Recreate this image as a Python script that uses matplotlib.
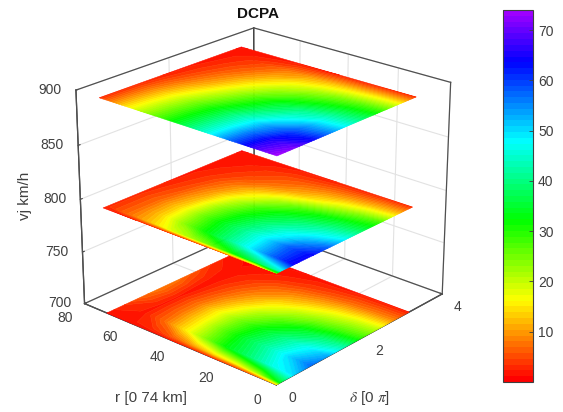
import numpy as np
import matplotlib
matplotlib.use("Agg")
import matplotlib.pyplot as plt
from matplotlib.colors import ListedColormap, Normalize, hsv_to_rgb
from matplotlib.cm import ScalarMappable
from matplotlib.transforms import ScaledTranslation
from mpl_toolkits.mplot3d import Axes3D  # noqa

plt.rcParams['font.family'] = ['Liberation Sans', 'DejaVu Sans']
plt.rcParams['mathtext.fontset'] = 'stix'

W, H = 563, 412
GREY = '#404040'

# fractions of the plate extent along delta
delta_frac = [0, .03, .125, .25, .375, .5, .625, .75, .875, 1]
# fractions of the plate extent along r
r_frac = [0, .125, .25, .375, .5, .625, .75, .875, 1]
delta_max = np.pi
r_max = 70.0
levels_z = [700, 800, 900]

# each row: one delta position; each column: one r position
plate_900 = [
    [74, 67, 57, 46, 37, 28.5, 21, 12, 3],
    [73.5, 67, 57, 46, 37, 28.5, 20.5, 12, 3],
    [71, 65.5, 56, 45.5, 36.5, 28, 20, 11.5, 3],
    [64, 60.5, 53, 44, 35, 26.5, 18.5, 10.5, 3],
    [55, 53, 46.5, 39, 31, 23, 15.5, 8.5, 2.5],
    [46, 44.5, 40.5, 34.5, 27, 19.5, 12, 6.5, 2],
    [37.5, 35.5, 32, 27.5, 22, 15.5, 9.5, 5, 2],
    [28, 26.5, 24, 20.5, 16.5, 11.5, 7, 4, 1.5],
    [16.5, 15.5, 14, 12.5, 10.5, 8, 5, 3, 1.5],
    [3, 3, 2.5, 2.5, 2, 2, 1.5, 1.5, 1],
]
plate_800 = [
    [25, 9, 6, 4.5, 3.5, 3, 2.5, 2, 2],
    [45, 38, 32, 26, 22, 18, 12, 7, 3],
    [65, 57, 48, 39.5, 31.5, 23, 13.5, 7, 3],
    [64, 58, 49, 41, 33.5, 24.5, 14, 7, 3],
    [57, 51, 45, 38.5, 31.5, 23, 12.5, 6, 2.5],
    [47, 43.5, 39, 34, 27.5, 19, 10.5, 5, 2],
    [37, 35, 31.5, 26.5, 20, 13.5, 8, 4, 2],
    [28, 24.5, 20, 15, 11, 7.5, 5, 3, 1.5],
    [14, 12.5, 10.5, 8.5, 6.5, 5, 3.5, 2, 1.5],
    [3, 3, 2.5, 2.5, 2, 2, 1.5, 1.5, 1],
]
plate_700 = [
    [12, 6, 4, 3, 2.5, 2, 1.5, 1, 1],
    [34, 22, 16, 14, 10, 6, 3, 2, 2],
    [50, 46, 39, 33, 24, 15, 7, 2, 3.5],
    [57, 50, 42, 35, 26, 16, 8, 2, 6.5],
    [53, 47, 40, 33, 25, 16.5, 8, 2, 8],
    [42, 38.5, 33.5, 27, 20.5, 13, 6.5, 1.5, 7.5],
    [29, 27, 24, 20, 15, 9.5, 5, 1.5, 5.5],
    [20, 18.5, 16, 12.5, 9.5, 6.5, 3.5, 1.5, 3.5],
    [9, 8.5, 7.5, 6, 4.5, 3, 2, 1, 2],
    [2, 2, 2, 1.5, 1.5, 1, 1, 1, 1],
]

x_ticks = [0, 2, 4]
y_ticks = [0, 20, 40, 60, 80]
z_ticks = [700, 750, 800, 850, 900]
cbar_ticks = [10, 20, 30, 40, 50, 60, 70]
vmin, vmax = 0, 74

hues = np.linspace(0, 0.77, 64)
cmap = ListedColormap(hsv_to_rgb(np.c_[hues, np.ones(64), np.ones(64)]))
norm = Normalize(vmin, vmax)
cont_levels = np.linspace(vmin, vmax, 65)

fig = plt.figure(figsize=(W / 100, H / 100), dpi=100)
ax = fig.add_axes([-0.011, -0.0175, 0.94, 1.06], projection='3d', computed_zorder=False)
ax.set_proj_type('persp', focal_length=0.82)
ax.view_init(elev=23, azim=-138.5)
ax.set_box_aspect((1, 1, 0.89), zoom=0.963)
ax.set_xlim(0, 4)
ax.set_ylim(0, 80)
ax.set_zlim(700, 900)

Xg, Yg = np.meshgrid(np.array(delta_frac) * delta_max, np.array(r_frac) * r_max, indexing='ij')
for i, (zv, plate) in enumerate(zip(levels_z, [plate_700, plate_800, plate_900])):
    cs = ax.contourf(Xg, Yg, np.array(plate), levels=cont_levels, cmap=cmap, norm=norm,
                     zdir='z', offset=zv, antialiased=True)
    cs.set_zorder(3 + i)
    cs.set_edgecolor('face')
    cs.set_linewidth(0.4)
ax.set_zlim(700, 900)

for axis in (ax.xaxis, ax.yaxis, ax.zaxis):
    axis.set_pane_color((1, 1, 1, 1))
    axis.pane.set_edgecolor('none')
    axis._axinfo['grid'].update(color='#e2e2e2', linewidth=0.8)
    axis._axinfo['tick'].update(inward_factor=0.0, outward_factor=0.12, linewidth={True: 0.8, False: 0.5})
    axis._axinfo['axisline'].update(color=GREY, linewidth=0.8)
    axis.line.set_color(GREY)
    axis.line.set_linewidth(0.9)

ax.set_xticks(x_ticks)
ax.set_yticks(y_ticks)
ax.set_zticks(z_ticks)
ax.tick_params(labelsize=10, colors=GREY, pad=2)
ax.xaxis.set_tick_params(pad=-5)
ax.yaxis.set_tick_params(pad=-5)


def shift_labels(axis, dx, dy):
    off = ScaledTranslation(dx / 100, -dy / 100, fig.dpi_scale_trans)
    for tick in axis.get_major_ticks():
        tick.label1.get_transform = lambda: ax.transData + off


shift_labels(ax.xaxis, 12, 1)
shift_labels(ax.yaxis, -16, 2)
shift_labels(ax.zaxis, -3, -8)


def edge(a, b, **k):
    ax.plot([a[0], b[0]], [a[1], b[1]], [a[2], b[2]], color=k.get('c', '#505050'), lw=k.get('lw', 0.9), zorder=k.get('z', 2))


edge((0, 80, 700), (4, 80, 700))
edge((4, 0, 700), (4, 80, 700))
edge((0, 0, 700), (4, 0, 700))
edge((0, 0, 700), (0, 80, 700))
edge((4, 80, 700), (4, 80, 900), c='#222222')
edge((0, 80, 700), (0, 80, 900))
edge((4, 0, 700), (4, 0, 900))
edge((0, 80, 900), (4, 80, 900))
edge((4, 0, 900), (4, 80, 900))

fig.text(370 / W, 1 - 398 / H, r'$\delta$ [0 $\pi$]', fontsize=11, color=GREY, ha='center', va='center')
fig.text(151 / W, 1 - 398 / H, 'r [0 74 km]', fontsize=11, color=GREY, ha='center', va='center')
fig.text(25 / W, 1 - 196 / H, 'vj km/h', fontsize=11, color=GREY, rotation=90, ha='center', va='center')
fig.text(258 / W, 1 - 14 / H, 'DCPA', fontsize=11, fontweight='bold', color='#111111', ha='center', va='center')

cax = fig.add_axes([503 / W, 1 - 382 / H, 29.5 / W, 372 / H])
sm = ScalarMappable(norm=norm, cmap=cmap)
cb = fig.colorbar(sm, cax=cax, ticks=cbar_ticks)
cb.ax.tick_params(labelsize=10, colors=GREY, direction='in', length=3, width=0.6, pad=4)
cb.outline.set_edgecolor('#404040')
cb.outline.set_linewidth(0.8)

fig.savefig('out.png', dpi=100)
